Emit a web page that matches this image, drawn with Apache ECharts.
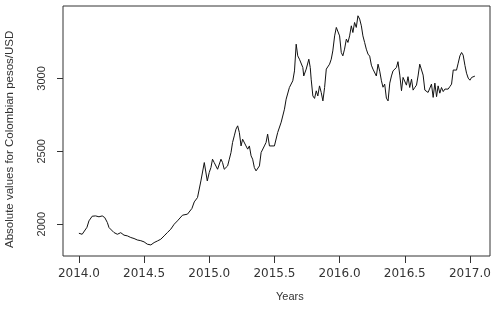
<!DOCTYPE html>
<html>
<head>
<meta charset="utf-8">
<script src="https://cdn.jsdelivr.net/npm/echarts@6/dist/echarts.min.js"></script>
<style>html,body{margin:0;padding:0;background:#fff}#c{width:497px;height:311px}</style>
</head>
<body>
<div id="c"></div>
<script>
const xTicks = [2014.0, 2014.5, 2015.0, 2015.5, 2016.0, 2016.5, 2017.0];
const yTicks = [2000, 2500, 3000];
const xTitle = "Years";
const yTitle = "Absolute values for Colombian pesos/USD";
const years = [
2014.000,2014.025,2014.062,2014.077,2014.102,2014.115,2014.128,2014.154,2014.179,2014.198,
2014.218,2014.231,2014.244,2014.269,2014.282,2014.295,2014.321,2014.346,2014.372,2014.398,
2014.423,2014.448,2014.475,2014.500,2014.525,2014.552,2014.564,2014.577,2014.602,2014.628,
2014.654,2014.679,2014.705,2014.731,2014.756,2014.795,2014.833,2014.867,2014.885,2014.910,
2014.936,2014.948,2014.962,2014.975,2014.985,2015.000,2015.013,2015.025,2015.038,2015.052,
2015.064,2015.077,2015.090,2015.102,2015.115,2015.128,2015.141,2015.154,2015.167,2015.179,
2015.192,2015.205,2015.218,2015.231,2015.244,2015.256,2015.269,2015.282,2015.295,2015.308,
2015.321,2015.333,2015.346,2015.359,2015.372,2015.385,2015.398,2015.410,2015.423,2015.436,
2015.448,2015.462,2015.475,2015.500,2015.525,2015.552,2015.577,2015.590,2015.615,2015.641,
2015.654,2015.667,2015.679,2015.692,2015.705,2015.718,2015.725,2015.744,2015.764,2015.775,
2015.782,2015.795,2015.808,2015.821,2015.833,2015.846,2015.859,2015.872,2015.885,2015.898,
2015.910,2015.923,2015.936,2015.948,2015.962,2015.975,2015.987,2016.000,2016.013,2016.025,
2016.038,2016.052,2016.064,2016.077,2016.090,2016.102,2016.115,2016.128,2016.141,2016.154,
2016.167,2016.179,2016.192,2016.205,2016.218,2016.231,2016.244,2016.256,2016.269,2016.282,
2016.295,2016.308,2016.321,2016.333,2016.346,2016.359,2016.372,2016.385,2016.398,2016.410,
2016.423,2016.436,2016.448,2016.462,2016.475,2016.487,2016.500,2016.513,2016.525,2016.538,
2016.552,2016.564,2016.577,2016.590,2016.602,2016.615,2016.628,2016.641,2016.654,2016.667,
2016.679,2016.692,2016.705,2016.718,2016.731,2016.744,2016.756,2016.769,2016.782,2016.795,
2016.808,2016.821,2016.833,2016.846,2016.859,2016.872,2016.885,2016.897,2016.910,2016.923,
2016.936,2016.948,2016.962,2016.974,2016.987,2017.000,2017.013,2017.025,2017.038
];
const values = [
1938,1931,1979,2023,2055,2048,2057,2051,2057,2046,
2012,1977,1966,1943,1931,1931,1942,1925,1920,1909,
1902,1892,1887,1879,1863,1858,1851,1874,1885,1897,
1920,1943,1966,2000,2023,2062,2069,2108,2153,2183,
2297,2309,2423,2434,2297,2355,2389,2446,2423,2412,
2377,2377,2446,2423,2377,2382,2400,2446,2492,2561,
2606,2652,2675,2629,2537,2583,2572,2537,2515,2537,
2469,2446,2389,2366,2377,2400,2492,2503,2537,2561,
2618,2537,2549,2537,2629,2700,2789,2858,2938,2984,
3052,3235,3155,3132,3132,3075,3017,3064,3132,3075,
2995,2880,2863,2915,2880,2949,2904,2846,2938,3064,
3075,3098,3132,3189,3292,3350,3338,3292,3178,3155,
3201,3270,3247,3292,3361,3315,3384,3350,3430,3407,
3361,3292,3247,3201,3167,3153,3091,3064,3052,3017,
3098,3050,2984,2940,2961,2865,2846,2968,3017,3052,
3064,3075,3115,3023,2916,3007,2995,2954,3012,2938,
2995,2920,2938,2954,3017,3098,3098,3023,2920,2910,
2904,2906,2961,2870,2968,2875,2949,2899,2938,2910,
2927,2938,2927,2944,2961,3058,3071,3057,3105,3155,
3178,3160,3088,3036,3002,2988,3007,3006,3016
];
const data = years.map((y, i) => [y, values[i]]);

const chart = echarts.init(document.getElementById('c'), null, {renderer: 'canvas'});
chart.setOption({
  animation: false,
  backgroundColor: '#fff',
  grid: {left: 63, right: 7, top: 6, bottom: 55, show: true, borderColor: '#333', borderWidth: 1, backgroundColor: 'transparent'},
  xAxis: {
    type: 'value', min: 2013.878, max: 2017.154,
    axisLine: {show: false},
    splitLine: {show: false},
    axisTick: {show: true, customValues: xTicks, length: 7, inside: false, lineStyle: {color: '#333'}},
    axisLabel: {customValues: xTicks, margin: 12, fontFamily: 'DejaVu Sans', fontSize: 12, color: '#333',
      formatter: v => v.toFixed(1)}
  },
  yAxis: {
    type: 'value', min: 1782, max: 3497,
    axisLine: {show: false},
    splitLine: {show: false},
    axisTick: {show: true, customValues: yTicks, length: 6, inside: false, lineStyle: {color: '#333'}},
    axisLabel: {customValues: yTicks, rotate: 90, margin: 16, fontFamily: 'Liberation Sans', fontSize: 11, color: '#333',
      formatter: v => String(Math.round(v))}
  },
  graphic: [
    {type: 'text', left: 276, top: 291, style: {text: xTitle, font: '11px "Liberation Sans"', fill: '#333'}},
    {type: 'text', x: 4, y: 248, rotation: Math.PI / 2, style: {text: yTitle, font: '11.5px "Liberation Sans"', fill: '#333'}}
  ],
  series: [{
    type: 'line', data: data, showSymbol: false, smooth: false,
    lineStyle: {color: '#111', width: 1}
  }]
});
</script>
</body>
</html>
